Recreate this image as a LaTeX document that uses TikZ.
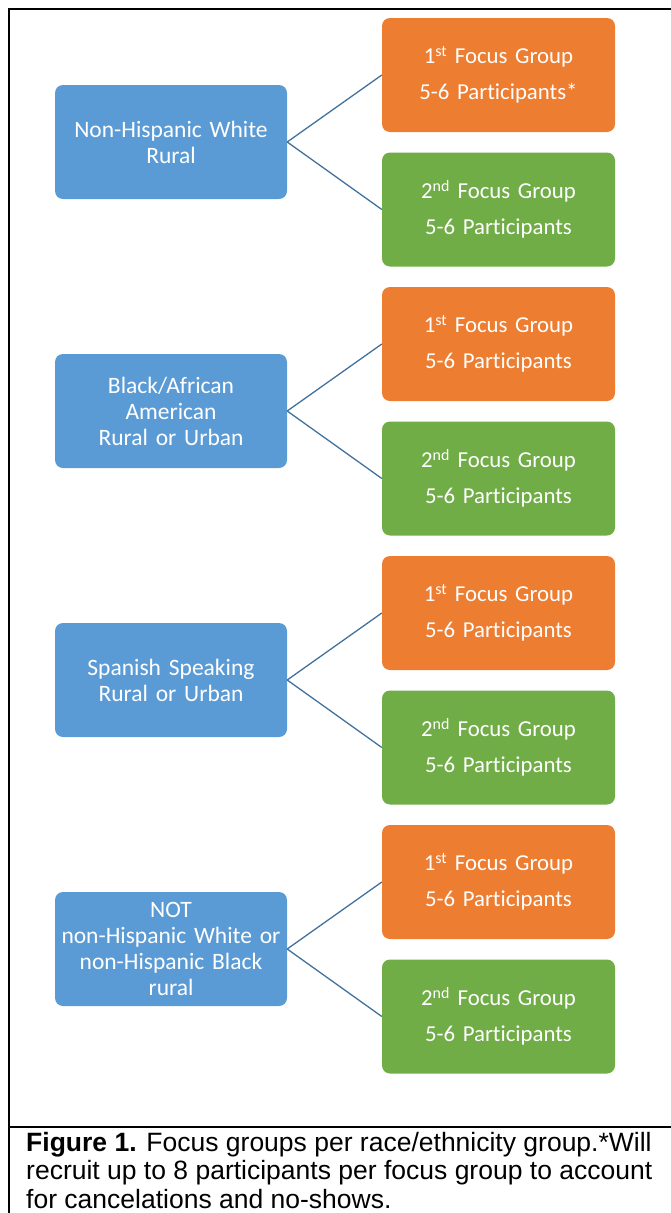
\documentclass[tikz,border=0pt]{standalone}
\usepackage{fontspec}
\setmainfont{Carlito}[Ligatures=NoCommon, WordSpace=0.8]
\newfontfamily\captionfont{Liberation Sans}
\usetikzlibrary{positioning}
\definecolor{groupblue}{HTML}{5B9BD5}
\definecolor{firstorange}{HTML}{ED7D31}
\definecolor{secondgreen}{HTML}{70AD47}
\definecolor{linkblue}{HTML}{41719C}
\tikzstyle{group} = [rectangle, rounded corners=8pt, minimum width=232pt, minimum height=114pt, text width=226pt, align=center, inner sep=0pt, fill=groupblue, text=white, font=\fontsize{23.5}{26}\selectfont]
\tikzstyle{first} = [group, minimum width=233pt, fill=firstorange, font=\fontsize{22.8}{36}\selectfont]
\tikzstyle{second} = [first, fill=secondgreen]
\tikzstyle{link} = [draw=linkblue, line width=1.3pt]
\tikzstyle{frame} = [line width=2pt, black]

\begin{document}
\begin{tikzpicture}[x=1pt, y=-1pt, node distance=269pt]
\useasboundingbox (0,0) rectangle (671,1213);

% frame and caption
\draw [frame] (9,1213) -- (9,9) -- (672,9);
\draw [frame] (9,1127) -- (672,1127);
\node (caption) [anchor=north west, inner sep=0pt, align=left, font=\captionfont\fontsize{26.5}{28.3}\selectfont] at (26,1132)
  {\textbf{Figure 1.} Focus groups per race/ethnicity group.*Will\\recruit up to 8 participants per focus group to account\\for cancelations and no-shows.};

% groups
\node (white) [group] at (171,142) {Non-Hispanic White\\Rural};
\node (black) [group, below of=white] {Black/African\\American\\Rural or Urban};
\node (spanish) [group, below of=black] {Spanish Speaking\\Rural or Urban};
\node (other) [group, below of=spanish] {NOT\\non-Hispanic White or\\non-Hispanic Black\\rural};

% focus groups
\node (whitefirst) [first, right of=white, xshift=58.5pt, yshift=67pt] {1\textsuperscript{st} Focus Group\\5-6 Participants*};
\node (whitesecond) [second, right of=white, xshift=58.5pt, yshift=-67.5pt] {2\textsuperscript{nd} Focus Group\\5-6 Participants};
\node (blackfirst) [first, right of=black, xshift=58.5pt, yshift=67pt] {1\textsuperscript{st} Focus Group\\5-6 Participants};
\node (blacksecond) [second, right of=black, xshift=58.5pt, yshift=-67.5pt] {2\textsuperscript{nd} Focus Group\\5-6 Participants};
\node (spanishfirst) [first, right of=spanish, xshift=58.5pt, yshift=67pt] {1\textsuperscript{st} Focus Group\\5-6 Participants};
\node (spanishsecond) [second, right of=spanish, xshift=58.5pt, yshift=-67.5pt] {2\textsuperscript{nd} Focus Group\\5-6 Participants};
\node (otherfirst) [first, right of=other, xshift=58.5pt, yshift=67pt] {1\textsuperscript{st} Focus Group\\5-6 Participants};
\node (othersecond) [second, right of=other, xshift=58.5pt, yshift=-67.5pt] {2\textsuperscript{nd} Focus Group\\5-6 Participants};

\draw [link] (white.east) -- (whitefirst.west);
\draw [link] (white.east) -- (whitesecond.west);
\draw [link] (black.east) -- (blackfirst.west);
\draw [link] (black.east) -- (blacksecond.west);
\draw [link] (spanish.east) -- (spanishfirst.west);
\draw [link] (spanish.east) -- (spanishsecond.west);
\draw [link] (other.east) -- (otherfirst.west);
\draw [link] (other.east) -- (othersecond.west);

\end{tikzpicture}
\end{document}
